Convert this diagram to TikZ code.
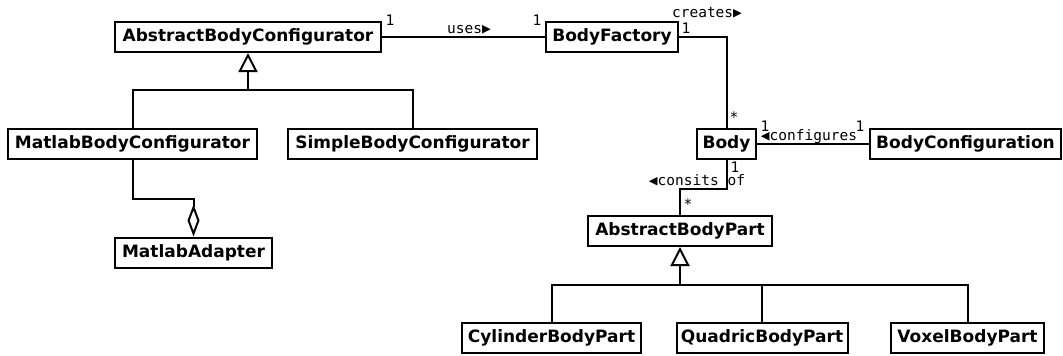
\documentclass[tikz,border=0pt]{standalone}
\usepackage{fontspec}
\usetikzlibrary{arrows.meta}
\newfontfamily\clsfont{DejaVu Sans}
\newfontfamily\lblfont{DejaVu Sans Mono}

\begin{document}
\begin{tikzpicture}[x=1pt,y=-1pt,
  cls/.style={draw, line width=2pt, minimum height=30pt, inner sep=0pt,
              font=\clsfont\bfseries\fontsize{17}{20}\selectfont},
  lbl/.style={inner sep=0pt, anchor=base, font=\lblfont\fontsize{14.5}{17}\selectfont},
  conn/.style={line width=2pt},
  gen/.style={conn, -{Triangle[open, length=19pt, width=19pt]}},
  agg/.style={conn, -{Diamond[open, length=32pt, width=12pt]}},
]
\useasboundingbox (0,0) rectangle (1063,356);

% classes
\node[cls, minimum width=266pt] (abc)  at (248,37)     {AbstractBodyConfigurator};
\node[cls, minimum width=132pt] (bf)   at (612,37)     {BodyFactory};
\node[cls, minimum width=249pt] (mbc)  at (132.5,144)  {MatlabBodyConfigurator};
\node[cls, minimum width=249pt] (sbc)  at (412.5,144)  {SimpleBodyConfigurator};
\node[cls, minimum width=157pt] (ma)   at (193.5,252.5){MatlabAdapter};
\node[cls, minimum width=59pt]  (body) at (726.5,144)  {Body};
\node[cls, minimum width=191pt] (bcf)  at (965.5,144)  {BodyConfiguration};
\node[cls, minimum width=184pt] (abp)  at (680,231)    {AbstractBodyPart};
\node[cls, minimum width=179pt] (cyl)  at (551.5,337.5){CylinderBodyPart};
\node[cls, minimum width=171pt] (quad) at (762,337.5)  {QuadricBodyPart};
\node[cls, minimum width=153pt] (vox)  at (967.5,337.5){VoxelBodyPart};

% junction points
\coordinate (g1) at (248,90);
\coordinate (k1) at (193.5,199);
\coordinate (k2) at (680,189);
\coordinate (g2) at (680,285);

% configurator hierarchy
\draw[conn] (mbc.north) |- (g1) -| (sbc.north);
\draw[gen] (g1) -- (abc.south);

% aggregation of the adapter
\draw[agg] (mbc.south) |- (k1) -- (ma.north);

% associations
\draw[conn] (abc.east) -- (bf.west);
\draw[conn] (bf.east) -| (body.north);
\draw[conn] (body.east) -- (bcf.west);
\draw[conn] (body.south) |- (k2) -- (abp.north);

% body part hierarchy
\draw[conn] (cyl.north) |- (g2) -| (vox.north);
\draw[conn] (quad.north) -- (quad.north |- g2);
\draw[gen] (g2) -- (abp.south);

% association labels and multiplicities
\node[lbl] (m1)    at (390,25)  {1};
\node[lbl] (uses)  at (469,33)  {uses▶};
\node[lbl] (m2)    at (537,25)  {1};
\node[lbl] (cre)   at (707,17)  {creates▶};
\node[lbl] (m3)    at (686,33)  {1};
\node[lbl, anchor=center] (s1) at (734,117) {*};
\node[lbl] (m5)    at (765,131) {1};
\node[lbl] (conf)  at (809,140) {◀configures};
\node[lbl] (m6)    at (860,131) {1};
\node[lbl] (m7)    at (735,172) {1};
\node[lbl] (cons)  at (697,185) {◀consits of};
\node[lbl, anchor=center] (s2) at (688,204) {*};
\end{tikzpicture}
\end{document}
